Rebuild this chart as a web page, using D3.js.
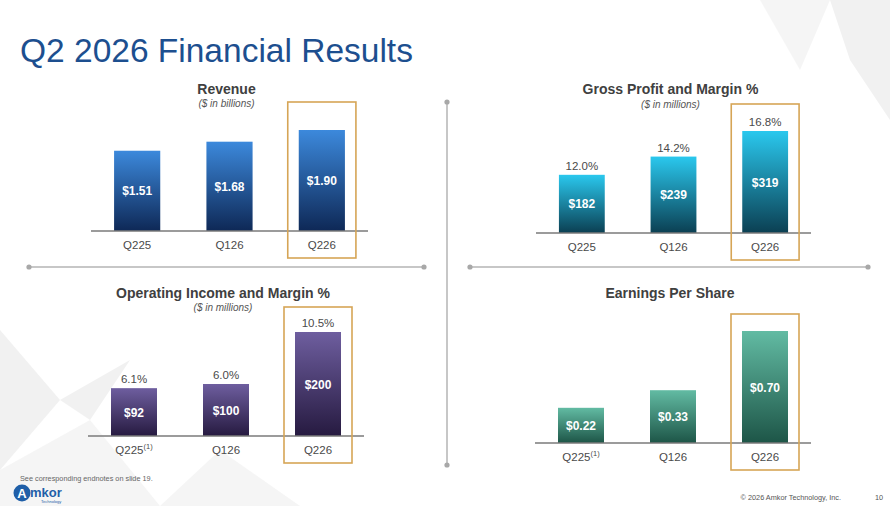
<!DOCTYPE html>
<html>
<head>
<meta charset="utf-8">
<script src="https://cdn.jsdelivr.net/npm/d3@7"></script>
<style>
  body { margin: 0; background: #fff; }
  svg { display: block; font-family: "Liberation Sans", Arial, sans-serif; }
</style>
</head>
<body>
<svg id="chart"></svg>
<script>
const width = 890;
const height = 506;

// données
const quarters = ["Q225", "Q126", "Q226"];
const revenue = [1.51, 1.68, 1.90];        // $ en milliards
const grossProfit = [182, 239, 319];       // $ en millions
const grossMargin = [12.0, 14.2, 16.8];    // %
const opIncome = [92, 100, 200];           // $ en millions
const opMargin = [6.1, 6.0, 10.5];         // %
const eps = [0.22, 0.33, 0.70];
const footnoteQuarter = "Q225";

const svg = d3.select("#chart")
  .attr("width", width)
  .attr("height", height);

const defs = svg.append("defs");

// fond : formes grises discrètes
const bgShapes = [
  [[830, 0], [890, 0], [890, 120], [850, 60]],
  [[760, 0], [830, 0], [800, 70]],
  [[0, 330], [60, 400], [0, 470]],
  [[0, 470], [90, 420], [160, 506], [0, 506]],
  [[60, 400], [130, 360], [90, 420]],
  [[160, 506], [220, 450], [300, 506]]
];
svg.append("g").selectAll("polygon")
  .data(bgShapes)
  .join("polygon")
  .attr("points", d => d.map(p => p.join(",")).join(" "))
  .attr("fill", (d, i) => i % 2 ? "#f1f1f1" : "#ebebeb")
  .attr("opacity", 0.7);

// titre principal
svg.append("text")
  .attr("x", 20)
  .attr("y", 62)
  .attr("font-size", 33.5)
  .attr("fill", "#1d4f8f")
  .text("Q2 2026 Financial Results");

// séparateurs
const sepColor = "#b5b5b5";
const seps = [
  [[29, 267], [424, 267]],
  [[470, 267], [868, 267]],
  [[447, 102], [447, 465]]
];
seps.forEach(s => {
  svg.append("line")
    .attr("x1", s[0][0]).attr("y1", s[0][1])
    .attr("x2", s[1][0]).attr("y2", s[1][1])
    .attr("stroke", sepColor).attr("stroke-width", 1.5);
  svg.selectAll(null).data(s).enter().append("circle")
    .attr("cx", d => d[0]).attr("cy", d => d[1])
    .attr("r", 2.6).attr("fill", "#a8a8a8");
});

// panneaux
const panels = [
  {
    id: "rev", title: "Revenue", sub: "($ in billions)",
    values: revenue, margins: null, fmt: d => "$" + d.toFixed(2),
    x0: 91, x1: 368, base: 231, maxH: 101, titleY: 94, subY: 107,
    colors: ["#3c89dc", "#0e2856"], note: false
  },
  {
    id: "gp", title: "Gross Profit and Margin %", sub: "($ in millions)",
    values: grossProfit, margins: grossMargin, fmt: d => "$" + d,
    x0: 536, x1: 811, base: 233, maxH: 102, titleY: 94, subY: 108,
    colors: ["#2ac8ee", "#0b3f52"], note: false
  },
  {
    id: "op", title: "Operating Income and Margin %", sub: "($ in millions)",
    values: opIncome, margins: opMargin, fmt: d => "$" + d,
    x0: 88, x1: 364, base: 436, maxH: 104, titleY: 298, subY: 311,
    colors: ["#6e5e9f", "#261a40"], note: true
  },
  {
    id: "eps", title: "Earnings Per Share", sub: null,
    values: eps, margins: null, fmt: d => "$" + d.toFixed(2),
    x0: 535, x1: 811, base: 443, maxH: 112, titleY: 298, subY: null,
    colors: ["#62bba3", "#1d5547"], note: true
  }
];

panels.forEach(p => {
  const grad = defs.append("linearGradient")
    .attr("id", "g-" + p.id)
    .attr("x1", 0).attr("y1", 0).attr("x2", 0).attr("y2", 1);
  grad.append("stop").attr("offset", "0%").attr("stop-color", p.colors[0]);
  grad.append("stop").attr("offset", "100%").attr("stop-color", p.colors[1]);

  const x = d3.scaleBand()
    .domain(quarters)
    .range([p.x0, p.x1])
    .paddingInner(0.5)
    .paddingOuter(0.25);

  const y = d3.scaleLinear()
    .domain([0, d3.max(p.values)])
    .range([p.base, p.base - p.maxH]);

  const rows = quarters.map((q, i) => ({ q, v: p.values[i], m: p.margins ? p.margins[i] : null }));
  const g = svg.append("g");
  const cx = (p.x0 + p.x1) / 2 - 3;

  // titre du panneau
  g.append("text")
    .attr("x", cx).attr("y", p.titleY)
    .attr("text-anchor", "middle")
    .attr("font-size", 14).attr("font-weight", "bold")
    .attr("fill", "#404040")
    .text(p.title);
  if (p.sub) {
    g.append("text")
      .attr("x", cx).attr("y", p.subY)
      .attr("text-anchor", "middle")
      .attr("font-size", 10).attr("font-style", "italic")
      .attr("fill", "#555")
      .text(p.sub);
  }

  // barres
  g.selectAll("rect.bar")
    .data(rows)
    .join("rect")
    .attr("class", "bar")
    .attr("x", d => x(d.q))
    .attr("y", d => y(d.v))
    .attr("width", x.bandwidth())
    .attr("height", d => y(0) - y(d.v))
    .attr("fill", `url(#g-${p.id})`);

  // valeurs dans les barres
  g.selectAll("text.val")
    .data(rows)
    .join("text")
    .attr("class", "val")
    .attr("x", d => x(d.q) + x.bandwidth() / 2)
    .attr("y", d => (y(d.v) + y(0)) / 2 + 4.5)
    .attr("text-anchor", "middle")
    .attr("font-size", 12).attr("font-weight", "bold")
    .attr("fill", "#fff")
    .text(d => p.fmt(d.v));

  // marges %
  if (p.margins) {
    g.selectAll("text.pct")
      .data(rows)
      .join("text")
      .attr("class", "pct")
      .attr("x", d => x(d.q) + x.bandwidth() / 2)
      .attr("y", d => y(d.v) - 5)
      .attr("text-anchor", "middle")
      .attr("font-size", 11.5)
      .attr("fill", "#4a4a4a")
      .text(d => d.m.toFixed(1) + "%");
  }

  // axe
  g.append("line")
    .attr("x1", p.x0).attr("x2", p.x1)
    .attr("y1", p.base).attr("y2", p.base)
    .attr("stroke", "#7a7a7a").attr("stroke-width", 1.3);

  const labels = g.selectAll("text.cat")
    .data(rows)
    .join("text")
    .attr("class", "cat")
    .attr("x", d => x(d.q) + x.bandwidth() / 2)
    .attr("y", p.base + 18)
    .attr("text-anchor", "middle")
    .attr("font-size", 11.5)
    .attr("fill", "#4a4a4a")
    .text(d => d.q);
  if (p.note) {
    labels.filter(d => d.q === footnoteQuarter)
      .append("tspan")
      .attr("dy", -5)
      .attr("font-size", 7.5)
      .text("(1)");
  }

  // cadre du dernier trimestre
  const last = quarters[quarters.length - 1];
  g.append("rect")
    .attr("x", x(last) - 11)
    .attr("y", p.base - 129)
    .attr("width", x.bandwidth() + 22)
    .attr("height", 156)
    .attr("fill", "none")
    .attr("stroke", "#d6a556")
    .attr("stroke-width", 1.6);
});

// pied de page
svg.append("text")
  .attr("x", 20).attr("y", 481)
  .attr("font-size", 7.3).attr("fill", "#666")
  .text("See corresponding endnotes on slide 19.");

const logo = svg.append("g").attr("transform", "translate(13,485)");
logo.append("circle").attr("cx", 9).attr("cy", 8).attr("r", 8.5).attr("fill", "#1f5fa8");
logo.append("text").attr("x", 9).attr("y", 13).attr("text-anchor", "middle")
  .attr("font-size", 13).attr("font-weight", "bold").attr("fill", "#fff").text("A");
logo.append("text").attr("x", 17).attr("y", 12)
  .attr("font-size", 13).attr("font-weight", "bold").attr("fill", "#1f5fa8").text("mkor");
logo.append("text").attr("x", 28).attr("y", 18)
  .attr("font-size", 4).attr("fill", "#1f5fa8").text("Technology");

svg.append("text")
  .attr("x", 841).attr("y", 500)
  .attr("text-anchor", "end")
  .attr("font-size", 7.3).attr("fill", "#555")
  .text("© 2026 Amkor Technology, Inc.");
svg.append("text")
  .attr("x", 883).attr("y", 500)
  .attr("text-anchor", "end")
  .attr("font-size", 7.3).attr("fill", "#555")
  .text("10");
</script>
</body>
</html>
